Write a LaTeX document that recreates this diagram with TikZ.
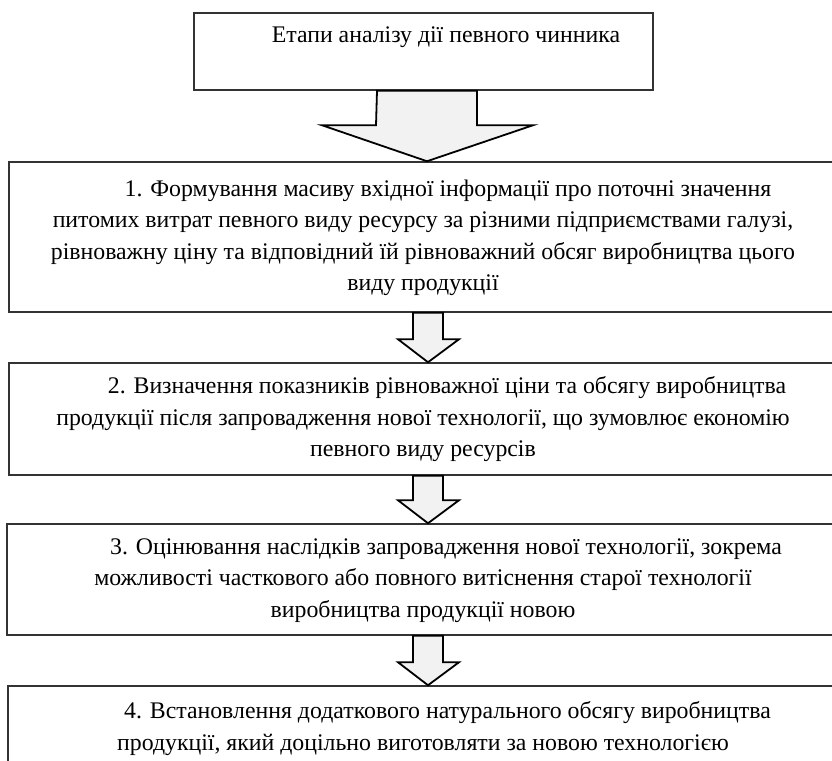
\documentclass[tikz,border=0pt]{standalone}
\usepackage{fontspec}
\setmainfont{Liberation Serif}
\usetikzlibrary{shapes}

\begin{document}
\begin{tikzpicture}[x=1pt, y=-1pt,
		stage/.style={shape=rectangle, draw=black!80, line width=1.5pt, inner sep=0pt,
			font=\fontsize{23.8}{31.5}\selectfont},
		blockarrow/.style={draw=black, fill=gray!10, line width=1.8pt, line join=miter}]

		\useasboundingbox (0,0) rectangle (832,760);

		\node (v0) at (423.5,51.5) [stage, minimum width=459, minimum height=77] {\begin{tabular}{c}
			\hspace*{45pt}Етапи аналізу дії певного чинника \\
			\\
			\end{tabular}};
		\node (v1) at (423,237) [stage, minimum width=828, minimum height=150] {\begin{tabular}{c}
			\hspace*{50pt}1. Формування масиву вхідної інформації про поточні значення \\
			питомих витрат певного виду ресурсу за різними підприємствами галузі, \\
			рівноважну ціну та відповідний їй рівноважний обсяг виробництва цього \\
			виду продукції \\
			\end{tabular}};
		\node (v2) at (423,419) [stage, minimum width=828, minimum height=112] {\begin{tabular}{c}
			\hspace*{48pt}2. Визначення показників рівноважної ціни та обсягу виробництва \\
			продукції після запровадження нової технології, що зумовлює економію \\
			певного виду ресурсів \\
			\end{tabular}};
		\node (v3) at (423,579.5) [stage, minimum width=832, minimum height=111] {\begin{tabular}{c}
			\hspace*{46pt}3. Оцінювання наслідків запровадження нової технології, зокрема \\
			можливості часткового або повного витіснення старої технології \\
			виробництва продукції новою \\
			\end{tabular}};
		\node (v4) at (423,728) [stage, minimum width=830, minimum height=84] {\begin{tabular}{c}
			\hspace*{49pt}4. Встановлення додаткового натурального обсягу виробництва \\
			продукції, який доцільно виготовляти за новою технологією \\
			\end{tabular}};

		% big arrow under the title
		\draw[blockarrow] ([xshift=-46.5]v0.south) -- ([xshift=-47,yshift=36]v1.north)
			-- ([xshift=-101,yshift=36]v1.north) -- ([xshift=4]v1.north)
			-- ([xshift=110,yshift=36]v1.north) -- ([xshift=54,yshift=36]v1.north)
			-- ([xshift=53.5]v0.south) -- cycle;

		% small arrows between the stages
		\draw[blockarrow] ([xshift=-10]v1.south) -- ([xshift=-10,yshift=23]v2.north)
			-- ([xshift=-25,yshift=23]v2.north) -- ([xshift=5]v2.north)
			-- ([xshift=36,yshift=23]v2.north) -- ([xshift=20,yshift=23]v2.north)
			-- ([xshift=20]v1.south) -- cycle;
		\draw[blockarrow] ([xshift=-10]v2.south) -- ([xshift=-10,yshift=23]v3.north)
			-- ([xshift=-25,yshift=23]v3.north) -- ([xshift=5]v3.north)
			-- ([xshift=36,yshift=23]v3.north) -- ([xshift=20,yshift=23]v3.north)
			-- ([xshift=20]v2.south) -- cycle;
		\draw[blockarrow] ([xshift=-10]v3.south) -- ([xshift=-10,yshift=23]v4.north)
			-- ([xshift=-25,yshift=23]v4.north) -- ([xshift=5]v4.north)
			-- ([xshift=36,yshift=23]v4.north) -- ([xshift=20,yshift=23]v4.north)
			-- ([xshift=20]v3.south) -- cycle;
	\end{tikzpicture}
\end{document}
